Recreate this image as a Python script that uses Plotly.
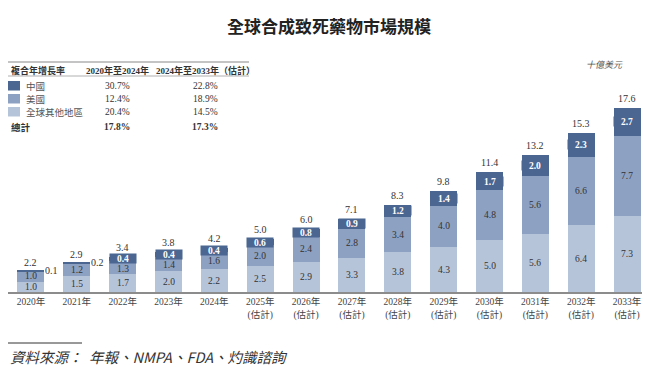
import plotly.graph_objects as go

# ---------------- data ----------------
years = ["2020年", "2021年", "2022年", "2023年", "2024年",
         "2025年<br>(估計)", "2026年<br>(估計)", "2027年<br>(估計)",
         "2028年<br>(估計)", "2029年<br>(估計)", "2030年<br>(估計)",
         "2031年<br>(估計)", "2032年<br>(估計)", "2033年<br>(估計)"]
rest_world = [1.0, 1.5, 1.7, 2.0, 2.2, 2.5, 2.9, 3.3, 3.8, 4.3, 5.0, 5.6, 6.4, 7.3]
usa = [1.0, 1.2, 1.3, 1.4, 1.6, 2.0, 2.4, 2.8, 3.4, 4.0, 4.8, 5.6, 6.6, 7.7]
china = [0.1, 0.2, 0.4, 0.4, 0.4, 0.6, 0.8, 0.9, 1.2, 1.4, 1.7, 2.0, 2.3, 2.7]
totals = [2.2, 2.9, 3.4, 3.8, 4.2, 5.0, 6.0, 7.1, 8.3, 9.8, 11.4, 13.2, 15.3, 17.6]

legend_names = ["中國", "美國", "全球其他地區"]
cagr_2020_2024 = ["30.7%", "12.4%", "20.4%"]
cagr_2024_2033 = ["22.8%", "18.9%", "14.5%"]
total_cagr = ["17.8%", "17.3%"]

title = "全球合成致死藥物市場規模"
unit = "十億美元"
source = "資料來源：  年報、NMPA、FDA、灼識諮詢"

# ---------------- style ----------------
C_DARK = "#4b6691"
C_MID = "#8da1c2"
C_LIGHT = "#b6c4d9"
TXT = "#333333"
SERIF = "Liberation Serif, Times New Roman, Noto Sans CJK TC, serif"
CJK = "Noto Sans CJK TC, Liberation Serif, serif"

OFF = 8               # page body margin
W, H = 650 - OFF, 370 - OFF
BASE_Y = 292          # screen pixel row of the baseline
PX_PER_UNIT = 10.4
YMAX = (BASE_Y - OFF) / PX_PER_UNIT


def fx(px):
    return (px - OFF) / W


def fy(py):
    return 1 - (py - OFF) / H


def pann(x, y, text, font, xanchor="center"):
    return dict(x=fx(x), y=fy(y), xref="paper", yref="paper", text=text,
                showarrow=False, xanchor=xanchor, yanchor="middle", font=font)


fig = go.Figure()
for vals, col, name in [(rest_world, C_LIGHT, legend_names[2]),
                        (usa, C_MID, legend_names[1]),
                        (china, C_DARK, legend_names[0])]:
    fig.add_trace(go.Bar(x=years, y=vals, marker=dict(color=col, line=dict(width=0)),
                         name=name, showlegend=False, hoverinfo="skip"))

ann = []
NF = dict(family=SERIF, size=10, color=TXT)
SF = dict(family=SERIF, size=9.5, color=TXT)
for i, yr in enumerate(years):
    r, u, c = rest_world[i], usa[i], china[i]
    ann.append(dict(x=yr, y=r / 2, text=f"{r:.1f}", showarrow=False, xanchor="center",
                    yanchor="middle", font=SF, xref="x", yref="y"))
    ann.append(dict(x=yr, y=r + u / 2, text=f"{u:.1f}", showarrow=False, xanchor="center",
                    yanchor="middle", yshift=-1.5 if (u < 1.5 and c >= 0.3) else 0, font=SF,
                    xref="x", yref="y"))
    if c < 0.3:
        ann.append(dict(x=yr, y=r + u + c / 2, text=f"{c:.1f}", showarrow=False,
                        xanchor="center", yanchor="middle", xshift=21, font=NF,
                        xref="x", yref="y"))
    else:
        ann.append(dict(x=yr, y=r + u + c / 2, text=f"<b>{c:.1f}</b>", showarrow=False,
                        xanchor="center", yanchor="middle",
                        font=dict(family=SERIF, size=9.5, color="white"),
                        bgcolor=C_DARK, borderpad=0, width=26, height=9,
                        xref="x", yref="y"))
    ann.append(dict(x=yr, y=r + u + c, text=f"{totals[i]:.1f}", showarrow=False,
                    xanchor="center", yanchor="bottom", yshift=2 if c >= 0.3 else 0,
                    font=NF, xref="x", yref="y"))

# title / unit / source
ann.append(pann(329, 25, f"<b>{title}</b>", dict(family=CJK, size=17, color="#222222")))
ann.append(pann(604, 64, f"<i>{unit}</i>", dict(family=CJK, size=9, color="#555555")))
ann.append(pann(8, 356, f"<i>{source}</i>", dict(family=CJK, size=14.5, color="#333333"),
                xanchor="left"))

# table
TF = dict(family=SERIF, size=9.5, color="#333333")
HF = dict(family=SERIF, size=9, color="#333333")
ann.append(pann(9, 70, "<b>複合年增長率</b>", HF, xanchor="left"))
ann.append(pann(117, 70, "<b>2020年至2024年</b>", HF))
ann.append(pann(205, 70, "<b>2024年至2033年（估計）</b>", HF))
row_y = [86, 99, 112]
colors = [C_DARK, C_MID, C_LIGHT]
shapes = [
    dict(type="line", xref="paper", yref="paper", x0=fx(8), x1=fx(249), y0=fy(62), y1=fy(62),
         line=dict(color="#8a8a8a", width=1.2)),
    dict(type="line", xref="paper", yref="paper", x0=fx(8), x1=fx(249), y0=fy(76), y1=fy(76),
         line=dict(color="#b0b0b0", width=1)),
    dict(type="line", xref="paper", yref="paper", x0=fx(8), x1=fx(82), y0=fy(343), y1=fy(343),
         line=dict(color="#333333", width=1)),
]
for k in range(3):
    yy = row_y[k]
    shapes.append(dict(type="rect", xref="paper", yref="paper", x0=fx(8), x1=fx(20),
                       y0=fy(yy - 5), y1=fy(yy + 4.5), fillcolor=colors[k], line=dict(width=0)))
    ann.append(pann(24, yy, legend_names[k], dict(family=CJK, size=9.5, color="#555555"),
                    xanchor="left"))
    ann.append(pann(117, yy, cagr_2020_2024[k], TF))
    ann.append(pann(205, yy, cagr_2024_2033[k], TF))
ann.append(pann(9, 127, "<b>總計</b>", TF, xanchor="left"))
ann.append(pann(117, 127, f"<b>{total_cagr[0]}</b>", TF))
ann.append(pann(205, 127, f"<b>{total_cagr[1]}</b>", TF))

fig.update_layout(
    width=W, height=H, autosize=False,
    margin=dict(l=0, r=0, t=0, b=0),
    paper_bgcolor="white", plot_bgcolor="white",
    barmode="stack", bargap=0.41,
    showlegend=False,
    annotations=ann, shapes=shapes,
    xaxis=dict(domain=[0, 1], type="category", range=[-0.5, 13.5],
               showline=True, linecolor="#8c8c8c", linewidth=1.5,
               ticks="", showgrid=False, zeroline=False,
               tickfont=dict(family=SERIF, size=9.5, color="#444444")),
    yaxis=dict(domain=[fy(BASE_Y), 1], range=[0, YMAX], showticklabels=False,
               showline=False, showgrid=False, zeroline=False, ticks=""),
)

fig.write_html("out.html")
